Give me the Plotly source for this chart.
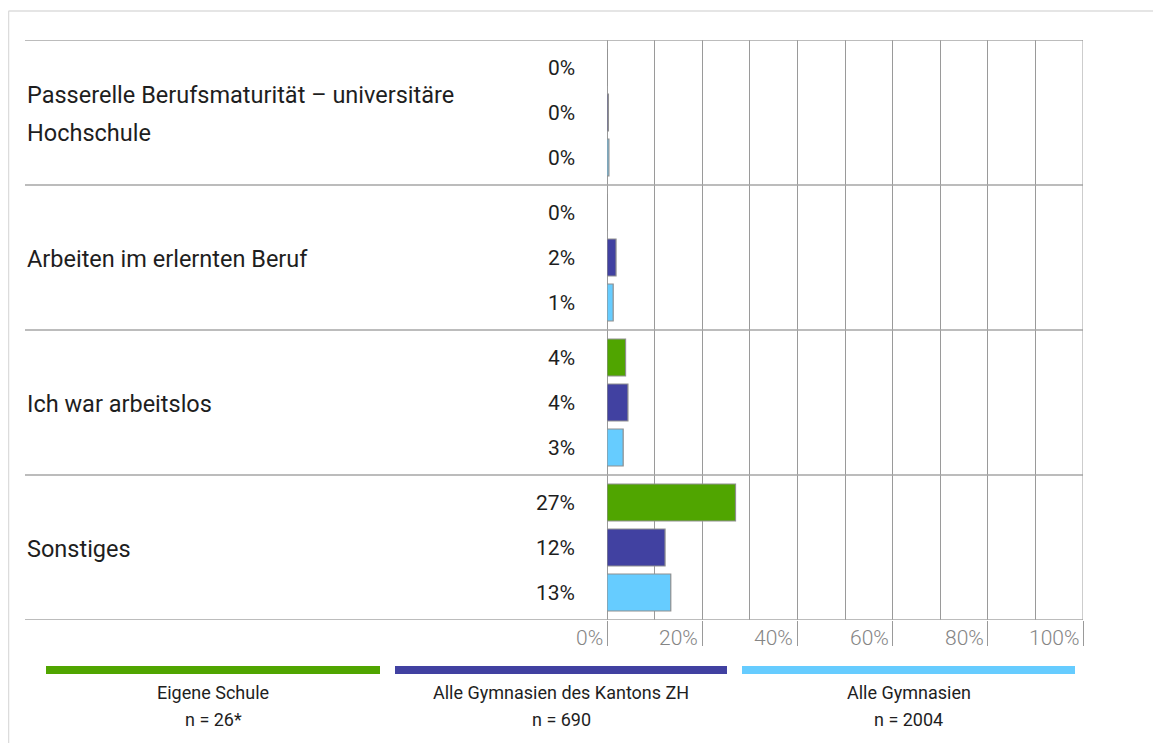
import plotly.graph_objects as go

# ---------------- data ----------------
categories = [
    "Passerelle Berufsmaturität – universitäre<br>Hochschule",
    "Arbeiten im erlernten Beruf",
    "Ich war arbeitslos",
    "Sonstiges",
]
series_names = ["Eigene Schule", "Alle Gymnasien des Kantons ZH", "Alle Gymnasien"]
series_n = ["n = 26*", "n = 690", "n = 2004"]
eigene_schule = [0.0, 0.0, 3.9, 27.0]
kanton_zh = [0.3, 1.9, 4.4, 12.2]
alle_gymnasien = [0.4, 1.3, 3.4, 13.4]
eigene_labels = ["0%", "0%", "4%", "27%"]
kanton_labels = ["0%", "2%", "4%", "12%"]
alle_labels = ["0%", "1%", "3%", "13%"]
tick_values = [0, 20, 40, 60, 80, 100]
tick_labels = ["0%", "20%", "40%", "60%", "80%", "100%"]
minor_ticks = [10, 30, 50, 70, 90]

series_values = [eigene_schule, kanton_zh, alle_gymnasien]
series_labels = [eigene_labels, kanton_labels, alle_labels]
colors = ["#50A500", "#4141A1", "#66CCFF"]

# ---------------- geometry (screen pixels; page body has 8px margin) ----------------
OFF = 8
SW, SH = 1161, 751
W, H = SW - 2 * OFF, SH - 2 * OFF
PL, PR, PT, PB = 607, 1083, 40, 620          # plot area in screen pixels
pw, ph = PR - PL, PB - PT


def px(x):
    return (x - PL) / pw


def py(y):
    return (PB - y) / ph


FONT = "Roboto"
GRID = "#9a9a9a"

fig = go.Figure()
for name, vals, col in zip(series_names, series_values, colors):
    fig.add_trace(go.Bar(
        y=categories, x=vals, orientation="h", name=name,
        marker=dict(color=col, line=dict(color="#8f8f8f", width=1.2)),
        hoverinfo="x+y",
    ))

shapes = []
# outer light frame (top and left edges)
shapes.append(dict(type="line", xref="paper", yref="paper", x0=px(OFF + 0.5), x1=px(SW + 20),
                   y0=py(11), y1=py(11), line=dict(color="#dcdcdc", width=1.5)))
shapes.append(dict(type="line", xref="paper", yref="paper", x0=px(OFF + 0.5), x1=px(OFF + 0.5),
                   y0=py(11), y1=py(SH + 20), line=dict(color="#dcdcdc", width=1.5)))
# horizontal separators between groups
for k in range(len(categories) + 1):
    shapes.append(dict(type="line", xref="paper", yref="y", x0=px(25), x1=1,
                       y0=k - 0.5, y1=k - 0.5, line=dict(color="#a6a6a6", width=1.5)))
# right border
shapes.append(dict(type="line", xref="x", yref="paper", x0=100, x1=100, y0=0, y1=1,
                   line=dict(color=GRID, width=1)))
# legend colour bars
leg_x = [(46, 380), (395, 727), (742, 1075)]
for (a, b), col in zip(leg_x, colors):
    shapes.append(dict(type="rect", xref="paper", yref="paper", x0=px(a), x1=px(b),
                       y0=py(674), y1=py(666), fillcolor=col, line=dict(width=0)))

annotations = []
# category labels (left column)
for i, cat in enumerate(categories):
    lines = cat.split("<br>")
    n = len(lines)
    for j, line in enumerate(lines):
        annotations.append(dict(
            x=px(25), xref="paper", y=i, yref="y", text=line, showarrow=False,
            xanchor="left", yanchor="middle", yshift=((n - 1) / 2 - j) * 38 - 1,
            font=dict(family=FONT, size=23.5, color="#1e1e1e")))
# value labels
for s, labs in enumerate(series_labels):
    for i, lab in enumerate(labs):
        annotations.append(dict(
            x=0, xref="x", y=i, yref="y", text=lab, showarrow=False,
            xanchor="right", yanchor="middle", xshift=-30, yshift=(1 - s) * 45,
            font=dict(family=FONT, size=21, color="#1e1e1e")))
# x tick labels
for v, t in zip(tick_values, tick_labels):
    annotations.append(dict(
        x=v, xref="x", y=py(638), yref="paper", text=t, showarrow=False,
        xanchor="right", yanchor="middle", xshift=-2,
        font=dict(family=FONT, size=21, color="#858585", weight=300)))
# legend texts
for (a, b), name, n in zip(leg_x, series_names, series_n):
    cx = px((a + b) / 2)
    annotations.append(dict(x=cx, xref="paper", y=py(692), yref="paper", text=name,
                            showarrow=False, xanchor="center", yanchor="middle",
                            font=dict(family=FONT, size=18, color="#1e1e1e")))
    annotations.append(dict(x=cx, xref="paper", y=py(719), yref="paper", text=n,
                            showarrow=False, xanchor="center", yanchor="middle",
                            font=dict(family=FONT, size=18, color="#1e1e1e")))

fig.update_layout(
    width=W, height=H,
    margin=dict(l=PL - OFF, r=W - (PR - OFF), t=PT - OFF, b=H - (PB - OFF), pad=0),
    paper_bgcolor="white", plot_bgcolor="white",
    barmode="group", bargap=10 / 145, bargroupgap=0.178,
    showlegend=False,
    xaxis=dict(range=[0, 100], tickvals=tick_values, showticklabels=False,
               ticks="outside", ticklen=25, tickcolor=GRID, tickwidth=1,
               showgrid=True, gridcolor=GRID, gridwidth=1,
               zeroline=True, zerolinecolor=GRID, zerolinewidth=1,
               showline=False,
               minor=dict(tickvals=minor_ticks, showgrid=True, gridcolor=GRID,
                          gridwidth=1, ticks="")),
    yaxis=dict(range=[len(categories) - 0.5, -0.5], showticklabels=False,
               showgrid=False, zeroline=False, showline=False, ticks=""),
    shapes=shapes, annotations=annotations,
    font=dict(family=FONT),
)

fig.write_html("out.html")
